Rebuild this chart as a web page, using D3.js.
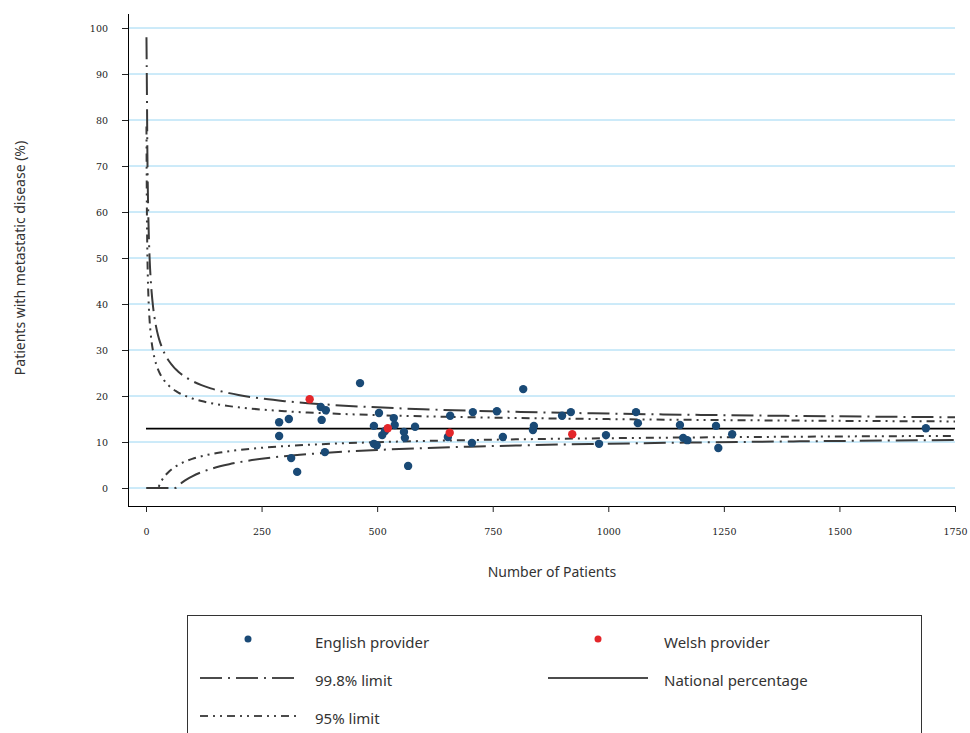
<!DOCTYPE html>
<html><head><meta charset="utf-8">
<script src="https://cdn.jsdelivr.net/npm/d3@7"></script>
<style>body{margin:0;background:#fff}svg{display:block}</style>
</head><body><svg id="c" width="970" height="733"></svg>
<script>
// provider points [patients, % metastatic]
let english=[[288,11.3],[288,14.3],[309,15.0],[314,6.5],[327,3.5],[378,17.6],[389,16.9],[380,14.8],[387,7.8],
[463,22.8],[504,16.3],[493,13.5],[493,9.6],[499,9.3],[511,11.5],[517,12.4],[536,15.2],[538,13.7],[560,10.9],
[558,12.2],[567,4.8],[582,13.3],[658,15.7],[653,11.1],[705,9.8],[707,16.5],[759,16.7],[772,11.1],[816,21.5],
[839,13.5],[837,12.6],[900,15.7],[919,16.5],[980,9.6],[995,11.5],[1060,16.5],[1064,14.1],[1155,13.7],
[1162,10.9],[1171,10.4],[1238,8.7],[1233,13.5],[1268,11.7],[1687,13.0]];
let welsh=[[354,19.3],[523,13.0],[657,12.0],[922,11.7]];
let nationalPct=12.9;
let xTicks=[0,250,500,750,1000,1250,1500,1750];
let yTicks=[0,10,20,30,40,50,60,70,80,90,100];
let nValues=[1,2,3,4,5,6,8,10,12,15,18,22,26,30,35,40,45,50,55,60,65,70,80,90,100,120,140,160,180,200,250,300,350,400,500,600,700,800,900,1000,1200,1400,1600,1750];

let svg=d3.select('#c');
let x=d3.scaleLinear().domain([0,1750]).range([146,955]);
let y=d3.scaleLinear().domain([0,100]).range([488,28]);

svg.append('g').selectAll('line').data(yTicks).join('line')
  .attr('x1',128).attr('x2',955).attr('y1',d=>y(d)).attr('y2',d=>y(d))
  .attr('stroke','#9ad6f3').attr('stroke-width',1);

let tickFont='"DejaVu Serif", serif';
let xa=svg.append('g').attr('transform','translate(0,506)')
  .call(d3.axisBottom(x).tickValues(xTicks).tickFormat(d3.format('d')).tickSize(6).tickPadding(16));
xa.select('.domain').attr('d','M128,0.5H955');
let ya=svg.append('g').attr('transform','translate(128,0)')
  .call(d3.axisLeft(y).tickValues(yTicks).tickSize(6).tickPadding(14));
ya.select('.domain').attr('d','M0.5,14V506');
svg.selectAll('.tick text').attr('font-family',tickFont).attr('font-size',9.5).attr('fill','#222');
svg.selectAll('.tick line').attr('stroke','#222');

function lim(z,sign){
  let p=nationalPct/100;
  return nValues.map(n=>[n,Math.max(0,Math.min(98,100*(p+sign*z*Math.sqrt(p*(1-p)/n))))]);
}
let line=d3.line().x(d=>x(d[0])).y(d=>y(d[1])).curve(d3.curveMonotoneX);
let styles=[[3.09,'22,6,2,6'],[1.96,'8,5,2,5,2,5']];
styles.forEach(s=>{
  [1,-1].forEach(sg=>{
    svg.append('path').datum(lim(s[0],sg)).attr('d',line).attr('fill','none')
      .attr('stroke','#3a3a3a').attr('stroke-width',2).attr('stroke-dasharray',s[1]);
  });
});
svg.append('line').attr('x1',x(0)).attr('x2',x(1750)).attr('y1',y(nationalPct)).attr('y2',y(nationalPct))
  .attr('stroke','#000').attr('stroke-width',1.6);

svg.append('g').selectAll('circle').data(english).join('circle')
  .attr('cx',d=>x(d[0])).attr('cy',d=>y(d[1])).attr('r',4.2).attr('fill','#1a4a76');
svg.append('g').selectAll('circle').data(welsh).join('circle')
  .attr('cx',d=>x(d[0])).attr('cy',d=>y(d[1])).attr('r',4.2).attr('fill','#e3262a');

let sans='"Noto Sans", sans-serif';
svg.append('text').attr('x',552).attr('y',577).attr('text-anchor','middle')
  .attr('font-family',sans).attr('font-size',14).attr('fill','#333').text('Number of Patients');
svg.append('text').attr('transform','translate(25,258) rotate(-90)').attr('text-anchor','middle')
  .attr('font-family',sans).attr('font-size',14).attr('fill','#333').text('Patients with metastatic disease (%)');

// legend
svg.append('rect').attr('x',187.5).attr('y',615.5).attr('width',734).attr('height',140)
  .attr('fill','none').attr('stroke','#333');
let lg=svg.append('g').attr('font-family',sans).attr('font-size',15).attr('fill','#333');
lg.append('circle').attr('cx',248).attr('cy',639).attr('r',3.5).attr('fill','#1a4a76');
lg.append('text').attr('x',315).attr('y',648).text('English provider');
lg.append('circle').attr('cx',598).attr('cy',639).attr('r',3.5).attr('fill','#e3262a');
lg.append('text').attr('x',664).attr('y',648).text('Welsh provider');
lg.append('line').attr('x1',200).attr('x2',300).attr('y1',678).attr('y2',678).attr('stroke','#111').attr('stroke-width',1.6).attr('stroke-dasharray',styles[0][1]);
lg.append('text').attr('x',315).attr('y',686).text('99.8% limit');
lg.append('line').attr('x1',548).attr('x2',648).attr('y1',678).attr('y2',678).attr('stroke','#111').attr('stroke-width',1.6);
lg.append('text').attr('x',664).attr('y',686).text('National percentage');
lg.append('line').attr('x1',200).attr('x2',300).attr('y1',716).attr('y2',716).attr('stroke','#111').attr('stroke-width',1.6).attr('stroke-dasharray',styles[1][1]);
lg.append('text').attr('x',315).attr('y',724).text('95% limit');
</script></body></html>
